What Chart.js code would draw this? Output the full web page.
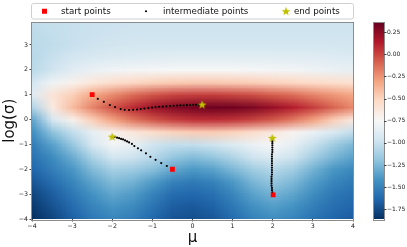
<!DOCTYPE html>
<html>
<head>
<meta charset="utf-8">
<script src="https://cdn.jsdelivr.net/npm/chart.js@4.4.0/dist/chart.umd.min.js"></script>
<style>
  html, body { margin: 0; padding: 0; background: #fff; }
  #wrap { width: 407px; height: 247px; }
</style>
</head>
<body>
<div id="wrap"><canvas id="c"></canvas></div>
<script>
// grid of the background surface
const muGrid = [-4, -3.5, -3, -2.5, -2, -1.5, -1, -0.5, 0, 0.5, 1, 1.5, 2, 2.5, 3, 3.5, 4];
const sigmaGrid = [4, 3.5, 3, 2.5, 2, 1.5, 1, 0.5, 0, -0.5, -1, -1.5, -2, -2.5, -3, -3.5, -4];
const field = [
  [-1.02, -1.01, -1.00, -0.99, -0.99, -0.98, -0.98, -0.98, -0.98, -0.98, -0.98, -0.98, -0.98, -0.98, -0.98, -0.98, -0.98],
  [-1.04, -1.02, -1.00, -0.99, -0.98, -0.97, -0.97, -0.97, -0.97, -0.97, -0.97, -0.97, -0.97, -0.97, -0.97, -0.97, -0.97],
  [-1.05, -1.03, -1.00, -0.98, -0.96, -0.95, -0.94, -0.94, -0.94, -0.94, -0.94, -0.94, -0.94, -0.94, -0.94, -0.95, -0.95],
  [-1.06, -1.00, -0.95, -0.92, -0.90, -0.89, -0.88, -0.87, -0.87, -0.87, -0.87, -0.87, -0.87, -0.88, -0.88, -0.89, -0.90],
  [-1.05, -0.97, -0.88, -0.82, -0.79, -0.77, -0.76, -0.75, -0.75, -0.75, -0.75, -0.76, -0.77, -0.78, -0.80, -0.82, -0.84],
  [-0.95, -0.80, -0.70, -0.62, -0.56, -0.52, -0.49, -0.47, -0.46, -0.46, -0.47, -0.48, -0.50, -0.52, -0.54, -0.56, -0.58],
  [-0.88, -0.60, -0.48, -0.32, -0.22, -0.12, -0.05, 0.00, 0.02, 0.02, 0.00, -0.03, -0.08, -0.13, -0.20, -0.26, -0.32],
  [-1.08, -0.65, -0.40, -0.20, -0.04, 0.08, 0.20, 0.27, 0.32, 0.34, 0.33, 0.29, 0.21, 0.12, 0.02, -0.10, -0.22],
  [-1.33, -0.93, -0.70, -0.48, -0.30, -0.15, -0.05, 0.02, 0.06, 0.07, 0.05, 0.00, -0.07, -0.17, -0.30, -0.48, -0.65],
  [-1.43, -1.20, -1.02, -0.85, -0.70, -0.62, -0.55, -0.50, -0.47, -0.47, -0.50, -0.55, -0.63, -0.72, -0.82, -0.92, -1.02],
  [-1.52, -1.35, -1.17, -0.93, -0.78, -0.84, -0.97, -1.02, -1.02, -0.98, -0.90, -0.82, -0.76, -0.85, -1.00, -1.14, -1.25],
  [-1.58, -1.45, -1.30, -1.10, -0.95, -0.98, -1.06, -1.18, -1.23, -1.18, -1.08, -0.97, -0.90, -0.98, -1.13, -1.26, -1.35],
  [-1.63, -1.52, -1.40, -1.24, -1.12, -1.15, -1.22, -1.33, -1.39, -1.35, -1.25, -1.14, -1.07, -1.14, -1.28, -1.40, -1.47],
  [-1.70, -1.60, -1.48, -1.34, -1.24, -1.28, -1.38, -1.50, -1.54, -1.50, -1.39, -1.26, -1.18, -1.25, -1.37, -1.48, -1.54],
  [-1.77, -1.67, -1.55, -1.42, -1.33, -1.38, -1.50, -1.61, -1.63, -1.59, -1.48, -1.35, -1.28, -1.34, -1.45, -1.55, -1.60],
  [-1.82, -1.72, -1.61, -1.49, -1.41, -1.46, -1.57, -1.67, -1.69, -1.65, -1.55, -1.43, -1.37, -1.42, -1.52, -1.60, -1.64],
  [-1.86, -1.77, -1.66, -1.55, -1.48, -1.53, -1.63, -1.71, -1.73, -1.70, -1.61, -1.50, -1.45, -1.49, -1.58, -1.64, -1.68]
];

// trajectories
const startX = [-2.5, -0.5, 2.01];
const startY = [1.0, -2.0, -3.03];
const endX = [0.24, -2.0, 1.99];
const endY = [0.6, -0.69, -0.74];
const midX = [
  -2.36, -2.21, -2.06, -1.93, -1.79, -1.69, -1.58, -1.48, -1.38, -1.29, -1.20, -1.10, -1.01, -0.92,
  -0.83, -0.74, -0.65, -0.56, -0.47, -0.38, -0.30, -0.22, -0.14, -0.06, 0.02, 0.09, 0.16,
  -0.64, -0.78, -0.92, -1.05, -1.16, -1.28, -1.36, -1.45, -1.51, -1.58, -1.63, -1.68, -1.73, -1.78,
  -1.83, -1.88, -1.94,
  1.99, 1.98, 1.98, 1.97, 1.97, 1.97, 1.97, 1.97, 1.98, 1.98, 1.98, 1.98, 1.98, 1.98, 1.98, 1.98,
  1.98, 1.98, 1.99, 1.99, 1.99, 1.99, 1.99, 1.99, 1.99
];
const midY = [
  0.83, 0.71, 0.58, 0.50, 0.42, 0.39, 0.38, 0.39, 0.40, 0.42, 0.44, 0.46, 0.48, 0.50,
  0.51, 0.52, 0.53, 0.54, 0.55, 0.56, 0.57, 0.57, 0.58, 0.58, 0.59, 0.59, 0.60,
  -1.87, -1.75, -1.62, -1.50, -1.36, -1.24, -1.16, -1.07, -0.98, -0.92, -0.88, -0.84, -0.80, -0.78,
  -0.75, -0.73, -0.70,
  -2.93, -2.84, -2.75, -2.66, -2.57, -2.48, -2.39, -2.30, -2.21, -2.12, -2.03, -1.94, -1.85, -1.76,
  -1.67, -1.58, -1.49, -1.40, -1.31, -1.22, -1.13, -1.04, -0.95, -0.87, -0.80
];

const xTicks = [-4, -3, -2, -1, 0, 1, 2, 3, 4];
const yTicks = [-4, -3, -2, -1, 0, 1, 2, 3];
const cbTicks = [0.25, 0, -0.25, -0.5, -0.75, -1, -1.25, -1.5, -1.75];
const vMin = -1.86, vMax = 0.36;

const legendLabels = ['start points', 'intermediate points', 'end points'];

// RdBu_r
const rdbu = ['#053061', '#2166ac', '#4393c3', '#92c5de', '#d1e5f0', '#f7f7f7',
              '#fddbc7', '#f4a582', '#d6604d', '#b2182b', '#67001f'].map(h => [
  parseInt(h.slice(1, 3), 16), parseInt(h.slice(3, 5), 16), parseInt(h.slice(5, 7), 16)]);

function cmap(v) {
  let t = (v - vMin) / (vMax - vMin);
  t = Math.max(0, Math.min(1, t)) * (rdbu.length - 1);
  const i = Math.min(Math.floor(t), rdbu.length - 2);
  const f = t - i;
  return rdbu[i].map((c, k) => Math.round(c + (rdbu[i + 1][k] - c) * f));
}

const minus = s => s.replace('-', '\u2212');

// filled star marker (matplotlib '*')
function makeStar(r, color) {
  const c = document.createElement('canvas');
  c.width = c.height = Math.ceil(r * 2 + 2);
  const g = c.getContext('2d');
  const cx = c.width / 2, cy = c.height / 2 + 0.4;
  g.beginPath();
  for (let k = 0; k < 10; k++) {
    const rr = k % 2 ? r * 0.42 : r;
    const a = -Math.PI / 2 + k * Math.PI / 5;
    g.lineTo(cx + rr * Math.cos(a), cy + rr * Math.sin(a));
  }
  g.closePath();
  g.fillStyle = color;
  g.fill();
  return c;
}
const star = makeStar(4.6, '#bfbf00');

const fieldPlugin = {
  id: 'field',
  beforeDatasetsDraw(chart) {
    const { ctx, chartArea: a, scales: { x, y } } = chart;
    const off = document.createElement('canvas');
    off.width = muGrid.length;
    off.height = sigmaGrid.length;
    const octx = off.getContext('2d');
    const img = octx.createImageData(off.width, off.height);
    field.forEach((row, j) => row.forEach((v, i) => {
      const c = cmap(v), k = (j * off.width + i) * 4;
      img.data[k] = c[0]; img.data[k + 1] = c[1]; img.data[k + 2] = c[2]; img.data[k + 3] = 255;
    }));
    octx.putImageData(img, 0, 0);
    const hx = (muGrid[1] - muGrid[0]) / 2, hy = (sigmaGrid[0] - sigmaGrid[1]) / 2;
    const x0 = x.getPixelForValue(muGrid[0] - hx);
    const x1 = x.getPixelForValue(muGrid[muGrid.length - 1] + hx);
    const y0 = y.getPixelForValue(sigmaGrid[0] + hy);
    const y1 = y.getPixelForValue(sigmaGrid[sigmaGrid.length - 1] - hy);
    ctx.save();
    ctx.beginPath();
    ctx.rect(a.left, a.top, a.width, a.height);
    ctx.clip();
    ctx.imageSmoothingEnabled = true;
    ctx.drawImage(off, x0, y0, x1 - x0, y1 - y0);
    ctx.restore();
  },
  afterDraw(chart) {
    const { ctx, chartArea: a, scales: { cb } } = chart;
    ctx.save();
    // plot frame
    ctx.strokeStyle = '#8c8c8c';
    ctx.lineWidth = 1;
    ctx.strokeRect(Math.round(a.left) - 0.5, Math.round(a.top) - 0.5,
                   Math.round(a.width) + 1, Math.round(a.height) + 1);

    // colorbar
    const cbl = a.right + 21, cbw = 10;
    for (let py = Math.floor(a.top); py < a.bottom; py++) {
      const c = cmap(cb.getValueForPixel(py + 0.5));
      ctx.fillStyle = `rgb(${c[0]},${c[1]},${c[2]})`;
      ctx.fillRect(cbl, py, cbw, 1);
    }
    ctx.strokeStyle = '#8c8c8c';
    ctx.strokeRect(Math.round(cbl) - 0.5, Math.round(a.top) - 0.5, cbw + 1, Math.round(a.height) + 1);
    ctx.strokeStyle = '#444';
    cbTicks.forEach(t => {
      const py = Math.round(cb.getPixelForValue(t)) + 0.5;
      ctx.beginPath();
      ctx.moveTo(cbl + cbw, py);
      ctx.lineTo(cbl + cbw + 2.5, py);
      ctx.stroke();
    });

    // legend
    const ly = 3, lh = 15.5, lx = a.left, lw = a.width + 1;
    ctx.fillStyle = 'rgba(255,255,255,0.85)';
    ctx.strokeStyle = '#d0d0d0';
    ctx.beginPath();
    ctx.roundRect(lx - 0.5, ly + 0.5, lw, lh, 2);
    ctx.fill();
    ctx.stroke();
    const cy = ly + lh / 2 + 0.5;
    const ds = chart.data.datasets;
    ctx.fillStyle = ds[0].backgroundColor;
    ctx.fillRect(lx + 10, cy - 2.5, 5, 5);
    ctx.fillStyle = ds[1].backgroundColor;
    ctx.beginPath();
    ctx.arc(lx + 114, cy, 1.1, 0, Math.PI * 2);
    ctx.fill();
    ctx.drawImage(star, lx + 254 - star.width / 2, cy - star.height / 2);
    ctx.fillStyle = '#111';
    ctx.font = '8.7px "DejaVu Sans"';
    ctx.textBaseline = 'middle';
    ctx.fillText(legendLabels[0], lx + 29, cy);
    ctx.fillText(legendLabels[1], lx + 131, cy);
    ctx.fillText(legendLabels[2], lx + 262, cy);
    ctx.restore();
  }
};

const tickFont = { family: 'DejaVu Sans', size: 6.3 };

new Chart(document.getElementById('c'), {
  type: 'scatter',
  data: {
    datasets: [
      {
        label: legendLabels[0],
        data: startX.map((v, i) => ({ x: v, y: startY[i] })),
        pointStyle: 'rect',
        pointRadius: 3.4,
        backgroundColor: '#ff0000',
        borderWidth: 0,
        order: 1
      },
      {
        label: legendLabels[1],
        data: midX.map((v, i) => ({ x: v, y: midY[i] })),
        pointStyle: 'circle',
        pointRadius: 1.1,
        backgroundColor: '#000000',
        borderWidth: 0,
        order: 2
      },
      {
        label: legendLabels[2],
        data: endX.map((v, i) => ({ x: v, y: endY[i] })),
        pointStyle: star,
        backgroundColor: '#bfbf00',
        order: 0
      }
    ]
  },
  options: {
    responsive: true,
    maintainAspectRatio: false,
    animation: false,
    events: [],
    layout: { padding: { top: 22.5, left: 0, right: 0, bottom: 0 } },
    plugins: {
      legend: { display: false },
      tooltip: { enabled: false }
    },
    scales: {
      x: {
        type: 'linear',
        min: -4,
        max: 4,
        afterBuildTicks: s => { s.ticks = xTicks.map(v => ({ value: v })); },
        afterFit: s => { s.height = 28; },
        grid: { drawOnChartArea: false, tickLength: 2.5, color: '#444' },
        border: { display: false },
        ticks: { font: tickFont, color: '#222', padding: 1, maxRotation: 0, callback: v => minus(String(v)) },
        title: { display: true, text: 'μ', font: { family: 'DejaVu Sans', size: 15 }, color: '#111', padding: 0 }
      },
      y: {
        type: 'linear',
        min: -4,
        max: 3.9,
        afterBuildTicks: s => { s.ticks = yTicks.map(v => ({ value: v })); },
        afterFit: s => { s.width = 32; },
        grid: { drawOnChartArea: false, tickLength: 2.5, color: '#444' },
        border: { display: false },
        ticks: { font: tickFont, color: '#222', padding: 1.5, callback: v => minus(String(v)) },
        title: { display: true, text: 'log(σ)', font: { family: 'DejaVu Sans', size: 15 }, color: '#111', padding: 1 }
      },
      cb: {
        type: 'linear',
        position: 'right',
        min: vMin,
        max: vMax,
        afterBuildTicks: s => { s.ticks = cbTicks.map(v => ({ value: v })); },
        afterFit: s => { s.width = 54; },
        grid: { display: false, drawTicks: true, tickLength: 33 },
        border: { display: false },
        ticks: { font: { family: 'DejaVu Sans', size: 6 }, color: '#222', padding: 1, callback: v => minus(v.toFixed(2)) }
      }
    }
  },
  plugins: [fieldPlugin]
});
</script>
</body>
</html>
